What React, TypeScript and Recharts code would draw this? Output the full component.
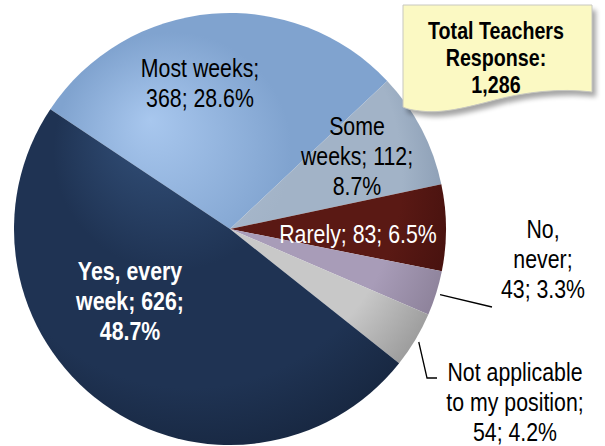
import React from 'react';
import { PieChart, Pie, Cell } from 'recharts';

// Data (drawing order: clockwise starting at upper-left)
const categories = ['Most weeks', 'Some weeks', 'Rarely', 'No, never', 'Not applicable to my position', 'Yes, every week'];
const counts = [368, 112, 83, 43, 54, 626];
const percents = ['28.6%', '8.7%', '6.5%', '3.3%', '4.2%', '48.7%'];
const labelLines = [
  ['Most weeks;', '368; 28.6%'],
  ['Some', 'weeks; 112;', '8.7%'],
  ['Rarely; 83; 6.5%'],
  ['No,', 'never;', '43; 3.3%'],
  ['Not applicable', 'to my position;', '54; 4.2%'],
  ['Yes, every', 'week; 626;', '48.7%'],
];
const calloutLines = ['Total Teachers', 'Response:', '1,286'];

const data = categories.map((name, i) => ({ name, value: counts[i], pct: percents[i] }));

// Styles
const FONT = '"Liberation Sans", Arial, sans-serif';
const NARROW = 0.82;
const colors = [
  { light: '#A8C7EE', mid: '#80A3CF', dark: '#6A8DBA' },
  { light: '#B4C2D4', mid: '#A2B3C7', dark: '#8396AE' },
  { light: '#6A231D', mid: '#5A1914', dark: '#45110E' },
  { light: '#BCB1CB', mid: '#A89CB8', dark: '#8C8199' },
  { light: '#DADADA', mid: '#C8C8C8', dark: '#9C9C9C' },
  { light: '#34527C', mid: '#1F3353', dark: '#182842' },
];
const textColors = ['#000', '#000', '#fff', '#000', '#000', '#fff'];
const textWeights = [400, 400, 400, 400, 400, 700];
// label centers relative to the pie centre
const labelOffsets = [
  { dx: -30, dy: -147 },
  { dx: 127, dy: -74 },
  { dx: 128, dy: 4 },
  { dx: 313, dy: 29 },
  { dx: 285, dy: 172 },
  { dx: -100, dy: 71 },
];
// leader lines (relative to the pie centre), beginning at the slice edge
const leaders: Record<number, { dx: number; dy: number }[]> = {
  3: [{ dx: 262, dy: 78 }],
  4: [{ dx: 197, dy: 149 }, { dx: 207, dy: 149 }],
};
const LINE_H = 30;
const FONT_SIZE = 26;

const RAD = Math.PI / 180;

const narrowAt = (x: number) => `translate(${x} 0) scale(${NARROW} 1) translate(${-x} 0)`;

const renderLabel = (props: any) => {
  const { cx, cy, midAngle, outerRadius, index } = props;
  const off = labelOffsets[index];
  const lines = labelLines[index];
  const x = cx + off.dx;
  const yc = cy + off.dy;
  const y0 = yc - ((lines.length - 1) * LINE_H) / 2;
  const lead = leaders[index];
  let leaderEl = null;
  if (lead) {
    const sx = cx + (outerRadius + 4) * Math.cos(-midAngle * RAD);
    const sy = cy + (outerRadius + 4) * Math.sin(-midAngle * RAD);
    const pts = [`${sx},${sy}`, ...lead.map((p) => `${cx + p.dx},${cy + p.dy}`)].join(' ');
    leaderEl = <polyline points={pts} fill="none" stroke="#000" strokeWidth={1.3} />;
  }
  return (
    <g key={`lbl-${index}`}>
      {leaderEl}
      <g transform={narrowAt(x)}>
        <text
          x={x}
          y={y0}
          textAnchor="middle"
          dominantBaseline="central"
          fontFamily={FONT}
          fontSize={FONT_SIZE}
          fontWeight={textWeights[index]}
          fill={textColors[index]}
        >
          {lines.map((l, i) => (
            <tspan key={i} x={x} y={y0 + i * LINE_H} dominantBaseline="central">
              {l}
            </tspan>
          ))}
        </text>
      </g>
    </g>
  );
};

const Callout = () => {
  const path = 'M403,5 L592,5 L592,92 C560,88 525,92 495,100 C465,108 440,114 420,111 C412,110 407,109 403,107 Z';
  return (
    <svg width={605} height={446} style={{ position: 'absolute', left: 0, top: 0, pointerEvents: 'none' }}>
      <defs>
        <filter id="shadowBlur" x="-10%" y="-10%" width="130%" height="140%">
          <feGaussianBlur stdDeviation="2.5" />
        </filter>
      </defs>
      <path d={path} transform="translate(4,5)" fill="#000" opacity={0.35} filter="url(#shadowBlur)" />
      <path d={path} fill="#FBF9C3" stroke="#C8C8C0" strokeWidth={1} />
      <g transform={narrowAt(496)}>
        {calloutLines.map((l, i) => (
          <text
            key={i}
            x={496}
            y={31 + i * 27}
            textAnchor="middle"
            dominantBaseline="central"
            fontFamily={FONT}
            fontSize={24}
            fontWeight={700}
            fill="#000"
          >
            {l}
          </text>
        ))}
      </g>
    </svg>
  );
};

export default function App() {
  return (
    <div style={{ position: 'absolute', left: 0, top: 0, width: 605, height: 446, background: '#fff' }}>
      <PieChart width={605} height={446} margin={{ top: 0, right: 0, bottom: 0, left: 0 }}>
        <defs>
          {colors.map((c, i) => (
            <radialGradient
              key={i}
              id={`grad${i}`}
              gradientUnits="userSpaceOnUse"
              cx={200}
              cy={190}
              r={265}
              fx={150}
              fy={120}
            >
              <stop offset="0%" stopColor={c.light} />
              <stop offset="45%" stopColor={c.mid} />
              <stop offset="80%" stopColor={c.mid} />
              <stop offset="100%" stopColor={c.dark} />
            </radialGradient>
          ))}
        </defs>
        <Pie
          data={data}
          dataKey="value"
          nameKey="name"
          cx={230}
          cy={229}
          outerRadius={216}
          innerRadius={0}
          startAngle={146.3}
          endAngle={-213.7}
          stroke="none"
          isAnimationActive={false}
          label={renderLabel}
          labelLine={false}
        >
          {data.map((d, i) => (
            <Cell key={d.name} fill={`url(#grad${i})`} />
          ))}
        </Pie>
      </PieChart>
      <Callout />
    </div>
  );
}
